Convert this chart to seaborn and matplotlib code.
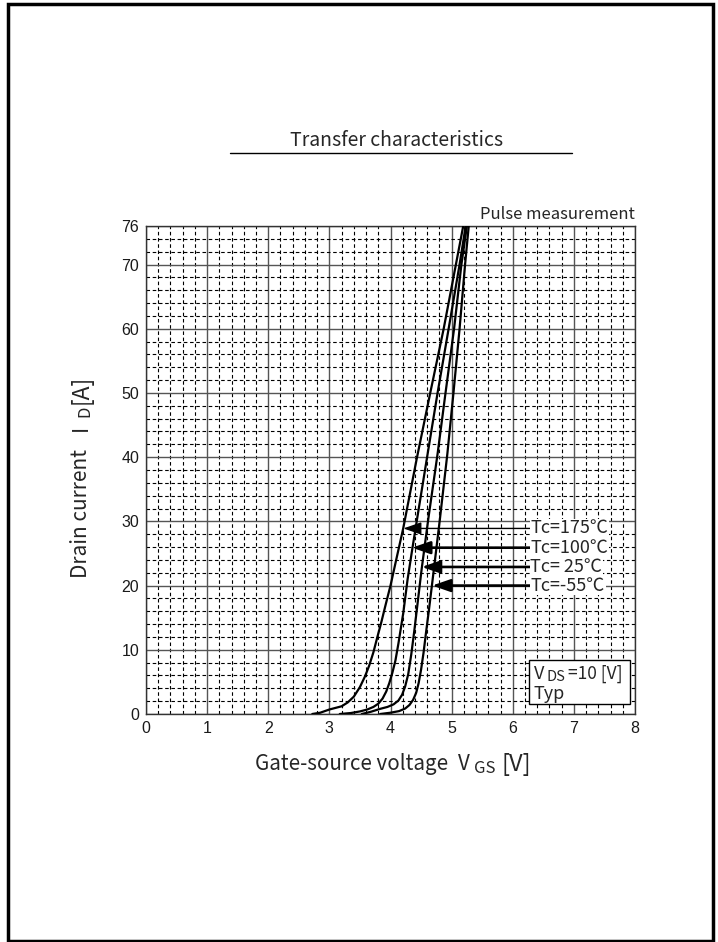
import numpy as np
import pandas as pd
import matplotlib
matplotlib.use("Agg")
import matplotlib.pyplot as plt
import seaborn as sns
from matplotlib.patches import Rectangle
from matplotlib.lines import Line2D

# ---- data ----
v_175 = [2.72, 2.85, 3.0, 3.1, 3.2, 3.3, 3.4, 3.5, 3.58, 3.65, 3.72, 3.78, 3.85, 3.92, 4.0, 4.1, 4.21,
         4.43, 4.65, 4.87, 5.07, 5.19]
i_175 = [0.0, 0.2, 0.7, 0.95, 1.2, 1.8, 2.7, 4.2, 5.8, 7.5, 9.6, 11.8, 14.3, 17.0, 20.0, 24.3, 29.0,
         39.8, 50.0, 60.0, 70.0, 76.0]
v_100 = [3.17, 3.35, 3.5, 3.62, 3.72, 3.8, 3.87, 3.93, 3.98, 4.03, 4.08, 4.13, 4.21, 4.28, 4.35, 4.42,
         4.59, 4.77, 4.96, 5.13, 5.23]
i_100 = [0.0, 0.15, 0.4, 0.7, 1.1, 1.6, 2.4, 3.5, 4.8, 6.4, 8.3, 11.0, 15.8, 21.0, 25.3, 29.5,
         39.5, 50.0, 60.5, 70.0, 76.0]
v_25 = [3.53, 3.68, 3.83, 3.95, 4.05, 4.13, 4.19, 4.24, 4.29, 4.34, 4.39, 4.44, 4.51, 4.62, 4.77,
        4.90, 5.04, 5.16, 5.25]
i_25 = [0.0, 0.35, 0.8, 1.1, 1.5, 2.1, 3.0, 4.3, 6.2, 9.3, 13.0, 17.0, 22.6, 30.5, 40.5,
        50.0, 60.0, 70.0, 76.0]
v_m55 = [3.83, 4.0, 4.14, 4.24, 4.31, 4.37, 4.42, 4.46, 4.50, 4.54, 4.58, 4.63, 4.68, 4.81, 4.93,
         5.03, 5.13, 5.22, 5.28]
i_m55 = [0.0, 0.2, 0.45, 0.85, 1.4, 2.2, 3.3, 4.8, 6.9, 9.5, 12.6, 16.3, 20.2, 30.5, 40.5,
         50.0, 60.0, 70.0, 76.0]

arrow_labels = ["Tc=175\u2103", "Tc=100\u2103", "Tc= 25\u2103", "Tc=-55\u2103"]
arrow_y = [28.9, 25.9, 22.9, 20.0]
arrow_tip_x = [4.21, 4.35, 4.51, 4.68]
arrow_widths = [1.0, 1.9, 1.9, 1.9]
arrow_tail_x = 6.28

x_ticks = [0, 1, 2, 3, 4, 5, 6, 7, 8]
y_ticks = [0, 10, 20, 30, 40, 50, 60, 70, 76]

curves = {"175": (v_175, i_175), "100": (v_100, i_100), "25": (v_25, i_25), "-55": (v_m55, i_m55)}
df = pd.concat(
    [pd.DataFrame({"V": v, "I": i, "Tc": t}) for t, (v, i) in curves.items()],
    ignore_index=True,
)

# ---- style ----
sns.set_style("white")
CJK = ["Noto Sans CJK JP", "DejaVu Sans"]
plt.rcParams["font.family"] = ["Liberation Sans", "DejaVu Sans"]

W, H = 718, 942
fig = plt.figure(figsize=(W / 100, H / 100), dpi=100)
ax = fig.add_axes([146 / W, 1 - 714 / H, (635 - 146) / W, (714 - 226) / H])


def P(x, y):
    """pixel (from top-left) -> figure fraction"""
    return x / W, 1 - y / H


sns.lineplot(data=df, x="V", y="I", hue="Tc", units="Tc", estimator=None, sort=False,
             palette=["black"] * 4, legend=False, linewidth=1.6, ax=ax, zorder=4)

ax.set_xlim(0, 8)
ax.set_ylim(0, 76)
ax.set_xticks(x_ticks)
ax.set_yticks(y_ticks)
ax.set_xticks(np.arange(0, 8.001, 0.2), minor=True)
ax.set_yticks(np.arange(0, 76.001, 2), minor=True)
ax.tick_params(which="both", length=0, labelsize=11.5, colors="#1a1a1a")
ax.tick_params(axis="x", pad=5)
ax.tick_params(axis="y", pad=5)
ax.grid(which="minor", color="black", linewidth=0.8, linestyle=(0, (3.2, 2.4)))
ax.grid(which="major", color="#555555", linewidth=1.0, linestyle="-")
ax.set_axisbelow(True)
for s in ax.spines.values():
    s.set_color("#333333")
    s.set_linewidth(1.0)
ax.set_xlabel("")
ax.set_ylabel("")

# arrows and labels
for lab, y, tx, lw in zip(arrow_labels, arrow_y, arrow_tip_x, arrow_widths):
    ax.annotate("", xy=(tx, y), xytext=(arrow_tail_x, y),
                arrowprops=dict(arrowstyle="-|>,head_length=1.1,head_width=0.38",
                                color="black", lw=lw, shrinkA=0, shrinkB=0), zorder=5)
    ax.text(arrow_tail_x + 0.01, y, lab, ha="left", va="center", fontsize=13,
            family=CJK, zorder=6,
            bbox=dict(boxstyle="square,pad=0.05", facecolor="white", edgecolor="none"))

# VDS box
ax.add_patch(Rectangle((6.26, 1.55), 1.66, 6.85, facecolor="white", edgecolor="black",
                       linewidth=1.0, zorder=6))
fig.text(*P(534, 679), "V", ha="left", va="baseline", fontsize=13, family=CJK, zorder=7)
fig.text(*P(546, 681), "DS", ha="left", va="baseline", fontsize=10.5, family=CJK, zorder=7)
fig.text(*P(568, 679), "=10 [V]", ha="left", va="baseline", fontsize=12.5, family=CJK, zorder=7)
fig.text(*P(534, 699), "Typ", ha="left", va="baseline", fontsize=13, family=CJK, zorder=7)

ax.text(1.0, 1.006, "Pulse measurement", transform=ax.transAxes, ha="right", va="bottom",
        fontsize=12, family=CJK)

# title with underline
fig.text(*P(397, 140), "Transfer characteristics", ha="center", va="center",
         fontsize=14, family=CJK)
fig.add_artist(Line2D([230 / W, 572 / W], [1 - 153 / H] * 2, color="black", lw=1.0))

# x label pieces
fig.text(*P(255, 770), "Gate-source voltage", ha="left", va="baseline", fontsize=14.8, family=CJK)
fig.text(*P(458, 770), "V", ha="left", va="baseline", fontsize=14.8, family=CJK)
fig.text(*P(474, 773), "GS", ha="left", va="baseline", fontsize=12, family=CJK)
fig.text(*P(501, 771), "[V]", ha="left", va="baseline", fontsize=17, family=CJK)

# y label pieces (rotated, reading bottom to top)
kw = dict(rotation=90, rotation_mode="anchor", ha="left", va="baseline", family=CJK)
fig.text(*P(87, 578), "Drain current", fontsize=15, **kw)
fig.text(*P(87, 431), "I", fontsize=15, **kw)
fig.text(*P(89, 417), "D", fontsize=12, **kw)
fig.text(*P(88, 404), "[A]", fontsize=16.5, **kw)

# outer frame
fig.add_artist(Rectangle((8 / W, 1 - 941 / H), (713 - 8) / W, (941 - 4) / H,
                         transform=fig.transFigure, fill=False, lw=2.5, ec="black"))

fig.savefig("out.png", dpi=100)
